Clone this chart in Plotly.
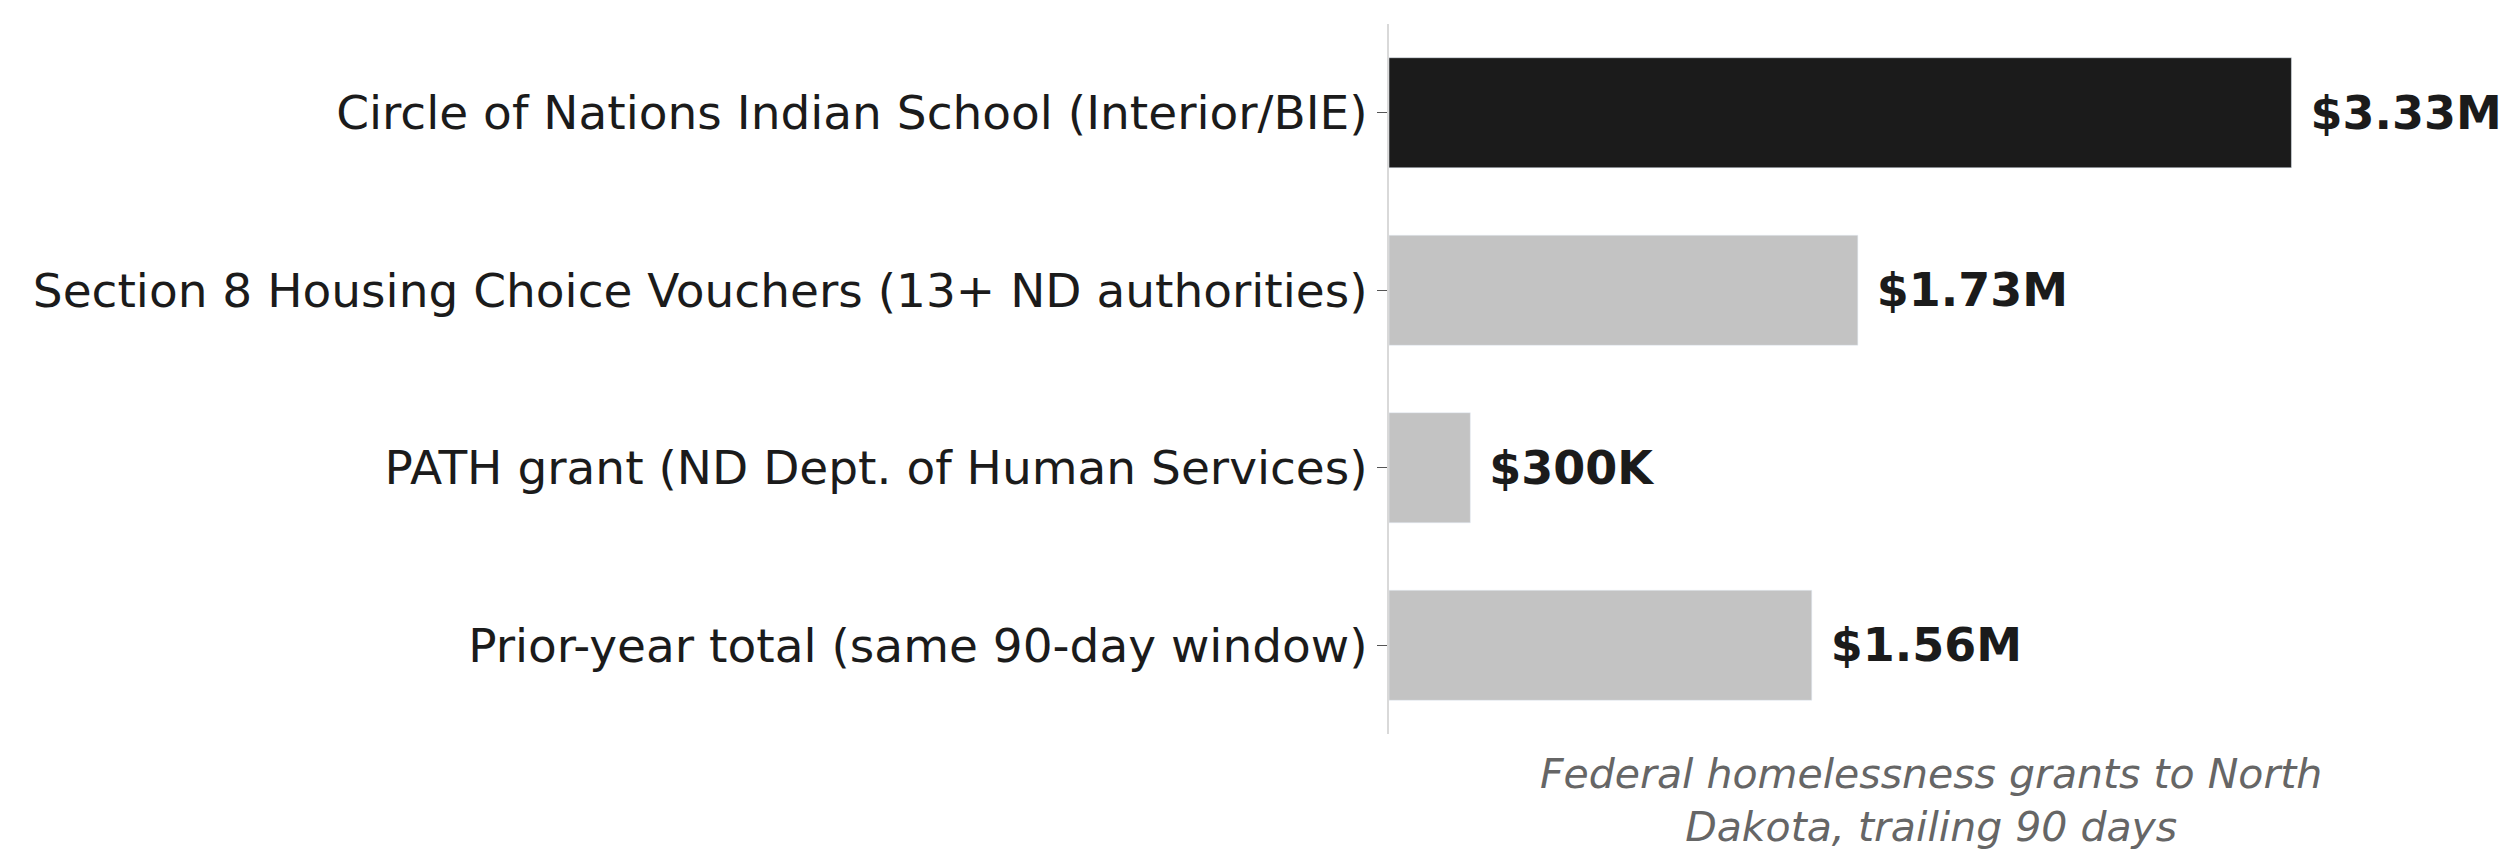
import plotly.graph_objects as go

categories = [
    "Circle of Nations Indian School (Interior/BIE)",
    "Section 8 Housing Choice Vouchers (13+ ND authorities)",
    "PATH grant (ND Dept. of Human Services)",
    "Prior-year total (same 90-day window)",
]
values = [3.33, 1.73, 0.30, 1.56]
labels = ["$3.33M", "$1.73M", "$300K", "$1.56M"]
colors = ["#1b1b1b", "#c3c3c3", "#c3c3c3", "#c3c3c3"]

fig = go.Figure(go.Bar(
    x=values, y=categories, orientation="h",
    marker_color=colors, width=0.62,
    text=["\u00a0" + t for t in labels], textposition="outside", cliponaxis=False,
    textfont=dict(family="DejaVu Sans", size=46, color="#1b1b1b", weight="bold"),
))

fig.update_layout(
    width=2519, height=863,
    plot_bgcolor="white", paper_bgcolor="white",
    margin=dict(l=1381, r=54, t=16, b=137),
    showlegend=False,
    font=dict(family="DejaVu Sans", size=42, color="#1b1b1b"),
    annotations=[dict(
        text="Federal homelessness grants to North<br>Dakota, trailing 90 days",
        xref="paper", yref="paper", x=0.5, y=-0.02, yanchor="top",
        showarrow=False,
        font=dict(family="DejaVu Sans", size=41, color="#666666", style="italic"),
    )],
)
fig.update_xaxes(range=[0, 4.0], visible=False)
fig.update_yaxes(
    autorange=False, range=[3.5, -0.5],
    showline=True, linecolor="#d9d9d9", linewidth=2,
    ticks="outside", ticklen=10, tickcolor="#555555",
    tickfont=dict(size=47, color="#1b1b1b"), showgrid=False,
)

fig.write_html("out.html")
